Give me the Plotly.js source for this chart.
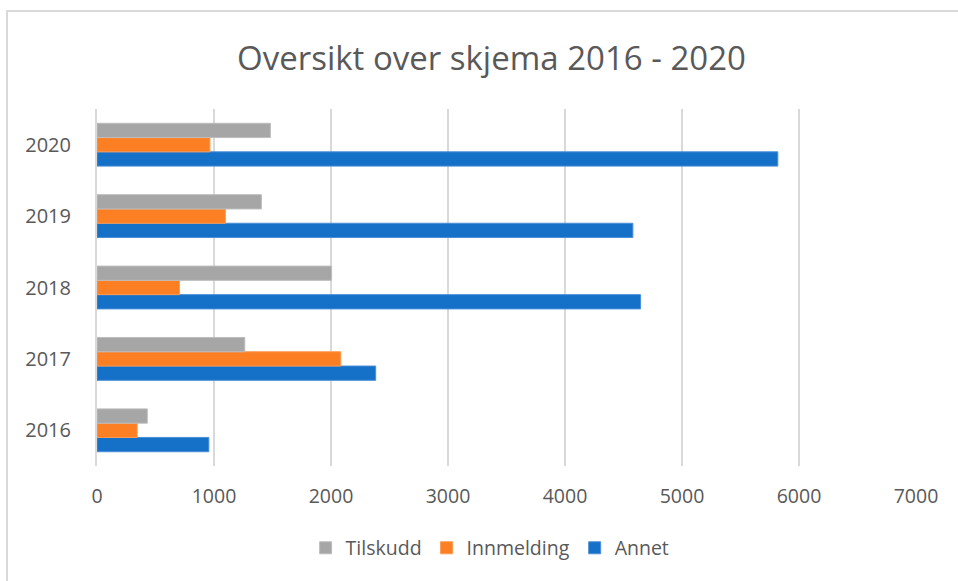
<!DOCTYPE html>
<html>
<head>
<meta charset="utf-8">
<script src="https://cdn.plot.ly/plotly-3.0.1.min.js"></script>
<style>
html,body{margin:0;padding:0;background:#fff;}
#chart{width:958px;height:581px;}
#frame{position:absolute;left:6px;top:10px;width:960px;height:580px;border-left:2px solid #d9d9d9;border-top:2px solid #d9d9d9;pointer-events:none;}
</style>
</head>
<body>
<div id="chart"></div>
<div id="frame"></div>
<script>
const years = ['2016', '2017', '2018', '2019', '2020'];
const tilskudd = [430, 1263, 2005, 1405, 1482];
const innmelding = [343, 2083, 705, 1097, 965];
const annet = [956, 2382, 4646, 4580, 5819];
const xTicks = [0, 1000, 2000, 3000, 4000, 5000, 6000, 7000];

const font = "Open Sans, Noto Sans, sans-serif";
const traces = [
  {type:'bar', orientation:'h', name:'Annet', y:years, x:annet, marker:{color:'#1570c8', line:{color:'#4a8fd6', width:1}}},
  {type:'bar', orientation:'h', name:'Innmelding', y:years, x:innmelding, marker:{color:'#fd7f23', line:{color:'#fd9a50', width:1}}},
  {type:'bar', orientation:'h', name:'Tilskudd', y:years, x:tilskudd, marker:{color:'#a6a6a6', line:{color:'#bdbdbd', width:1}}}
];
const layout = {
  width:958, height:581,
  paper_bgcolor:'#fff', plot_bgcolor:'#fff',
  margin:{l:97, r:42, t:109, b:115},
  barmode:'group', bargap:0.4, bargroupgap:0,
  title:{text:'Oversikt over skjema 2016 - 2020', x:0.513, xanchor:'center', y:0.9, yanchor:'middle',
         font:{family:font, size:33, color:'#595959'}},
  xaxis:{range:[0,7000], tickvals:xTicks, ticktext:xTicks.map(String),
         showgrid:true, gridcolor:'#d9d9d9', gridwidth:2, zeroline:false,
         showline:false, ticks:'', ticklabelstandoff:16, tickfont:{family:font, size:19.5, color:'#595959'}, fixedrange:true},
  yaxis:{type:'category', categoryarray:years, showgrid:false, zeroline:false,
         showline:true, linecolor:'#d9d9d9', linewidth:2, ticks:'', ticklabelstandoff:20,
         tickfont:{family:font, size:20, color:'#595959'}, fixedrange:true},
  showlegend:true,
  legend:{orientation:'h', traceorder:'reversed', x:0.48, xanchor:'center', y:-0.23, yanchor:'middle',
          font:{family:font, size:19.5, color:'#595959'}, itemwidth:30},
  font:{family:font}
};
Plotly.newPlot('chart', traces, layout, {displayModeBar:false, staticPlot:true});
</script>
</body>
</html>
